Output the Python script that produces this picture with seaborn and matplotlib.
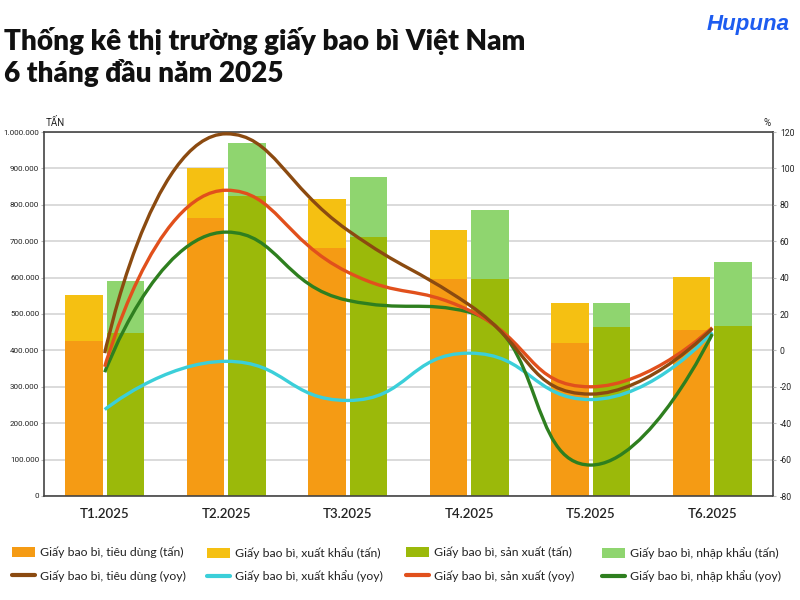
import numpy as np
import pandas as pd
import matplotlib
matplotlib.use("Agg")
import matplotlib.pyplot as plt
from matplotlib.path import Path
from matplotlib.patches import PathPatch, Patch
from matplotlib.lines import Line2D
import seaborn as sns

months = ["T1.2025", "T2.2025", "T3.2025", "T4.2025", "T5.2025", "T6.2025"]

# khối lượng (tấn)
tieu_dung = [425000, 765000, 680000, 595000, 420000, 455000]
xuat_khau = [127000, 137000, 136000, 136000, 109000, 146000]
san_xuat = [448000, 825000, 711000, 596000, 465000, 468000]
nhap_khau = [142000, 146000, 166000, 189000, 64000, 174000]

# tăng trưởng (yoy, %)
yoy_tieu_dung = [-1.5, 119, 66, 25, -24, 12]
yoy_xuat_khau = [-32.5, -6, -27.5, -1.5, -27, 10]
yoy_san_xuat = [-9, 88, 43, 22, -20, 12.5]
yoy_nhap_khau = [-12, 65, 27.5, 21, -63, 9]

left_ticks = list(range(0, 1000001, 100000))
right_ticks = list(range(-80, 121, 20))

c_orange = "#f59b14"
c_yellow = "#f5c012"
c_olive = "#9bb90a"
c_lgreen = "#8fd56f"
c_brown = "#8b4a10"
c_cyan = "#3bcfd9"
c_red = "#e1501c"
c_dgreen = "#2e7f1f"

sns.set_style("white")
plt.rcParams["font.family"] = ["Lato", "DejaVu Sans"]

narrow = ["Liberation Sans Narrow", "Roboto", "DejaVu Sans"]

df = pd.DataFrame({
    "thang": months * 2,
    "loai": ["tieu_dung"] * 6 + ["san_xuat"] * 6,
    "nen": tieu_dung + san_xuat,
    "tong": [a + b for a, b in zip(tieu_dung, xuat_khau)] + [a + b for a, b in zip(san_xuat, nhap_khau)],
})

fig = plt.figure(figsize=(8, 6), dpi=100)
ax = fig.add_axes([44 / 800, 1 - 496 / 600, (773 - 44) / 800, (496 - 132) / 600])

hue_order = ["tieu_dung", "san_xuat"]
sns.barplot(data=df, x="thang", y="tong", hue="loai", hue_order=hue_order,
            palette={"tieu_dung": c_yellow, "san_xuat": c_lgreen},
            width=0.685, gap=0.095, saturation=1, errorbar=None, legend=False,
            linewidth=0, ax=ax, zorder=2)
sns.barplot(data=df, x="thang", y="nen", hue="loai", hue_order=hue_order,
            palette={"tieu_dung": c_orange, "san_xuat": c_olive},
            width=0.685, gap=0.095, saturation=1, errorbar=None, legend=False,
            linewidth=0, ax=ax, zorder=2)

ax.set_xlim(-0.5, len(months) - 0.5)
ax.set_ylim(0, 1000000)
ax.set_yticks(left_ticks)
ax.set_yticklabels([f"{v:,}".replace(",", ".") for v in left_ticks], fontfamily=narrow,
                   fontsize=5.8, color="#222")
ax.set_xlabel("")
ax.set_ylabel("")
ax.yaxis.grid(True, color="#d4d4d4", lw=1.2, zorder=0)
ax.set_axisbelow(True)
ax.tick_params(axis="y", length=2, width=0.8, pad=1.5, color="#bbb")
ax.tick_params(axis="x", length=0, pad=9)
for lab in ax.get_xticklabels():
    lab.set_fontsize(9.5)
    lab.set_fontweight("semibold")
    lab.set_color("#222")
for s in ax.spines.values():
    s.set_color("#444")
    s.set_linewidth(1.2)

ax2 = ax.twinx()
ax2.set_ylim(-80, 120)
ax2.set_yticks(right_ticks)
ax2.set_yticklabels([str(v) for v in right_ticks], fontfamily=narrow, fontsize=6.2, color="#222")
ax2.tick_params(axis="y", length=2, width=0.8, pad=3, color="#bbb")
for s in ax2.spines.values():
    s.set_visible(False)


def smooth_path(axis, ys, smooth=0.5):
    # bezier control points in screen space, clamped so the curve does not overshoot
    pts = axis.transData.transform(np.column_stack([np.arange(len(ys)), ys]))
    verts = [pts[0]]
    codes = [Path.MOVETO]
    cp0 = pts[0]
    for i in range(1, len(pts)):
        p, prev = pts[i], pts[i - 1]
        if i == len(pts) - 1:
            cp1 = p
            nxt_cp0 = p
        else:
            nxt = pts[i + 1]
            l0 = np.hypot(*(p - prev))
            l1 = np.hypot(*(nxt - p))
            r = l1 / (l0 + l1)
            v = nxt - prev
            ncp = p + v * smooth * r
            ncp = np.maximum(np.minimum(ncp, np.maximum(nxt, p)), np.minimum(nxt, p))
            v = ncp - p
            cp1 = p - v * l0 / l1
            cp1 = np.maximum(np.minimum(cp1, np.maximum(prev, p)), np.minimum(prev, p))
            v = p - cp1
            nxt_cp0 = p + v * l1 / l0
        verts += [cp0, cp1, p]
        codes += [Path.CURVE4] * 3
        cp0 = nxt_cp0
    return Path(axis.transData.inverted().transform(np.array(verts)), codes)


yoy_series = [
    (yoy_xuat_khau, c_cyan),
    (yoy_nhap_khau, c_dgreen),
    (yoy_san_xuat, c_red),
    (yoy_tieu_dung, c_brown),
]
for vals, col in yoy_series:
    ax2.add_patch(PathPatch(smooth_path(ax2, vals), facecolor="none", edgecolor=col,
                            lw=2.4, capstyle="butt", zorder=3))

# texts
fig.text(4 / 800, 1 - 50 / 600, "Thống kê thị trường giấy bao bì Việt Nam",
         fontsize=20.1, fontweight="heavy", color="#111", ha="left", va="baseline")
fig.text(4 / 800, 1 - 82 / 600, "6 tháng đầu năm 2025",
         fontsize=20.1, fontweight="heavy", color="#111", ha="left", va="baseline")
fig.text(790 / 800, 1 - 30 / 600, "Hupuna", fontfamily=["Liberation Sans", "DejaVu Sans"],
         fontstyle="italic", fontweight="bold", fontsize=16, color="#1d5cf0", ha="right", va="baseline")
fig.text(46 / 800, 1 - 126 / 600, "TẤN", fontfamily=narrow, fontsize=7, color="#222", ha="left", va="baseline")
fig.text(771 / 800, 1 - 126 / 600, "%", fontfamily=narrow, fontsize=7, color="#222", ha="right", va="baseline")

# legend: four columns, bar on top, line below
legend_cols = [
    ("Giấy bao bì, tiêu dùng", c_orange, c_brown, 12),
    ("Giấy bao bì, xuất khẩu", c_yellow, c_cyan, 207),
    ("Giấy bao bì, sản xuất", c_olive, c_red, 406),
    ("Giấy bao bì, nhập khẩu", c_lgreen, c_dgreen, 602),
]
for name, bar_c, line_c, x0 in legend_cols:
    handles = [Patch(facecolor=bar_c, edgecolor="none"), Line2D([], [], color=line_c, lw=3)]
    leg = fig.legend(handles, [f"{name} (tấn)", f"{name} (yoy)"], loc="upper left",
                     bbox_to_anchor=(x0 / 800, 1 - 547 / 600), frameon=False, fontsize=8.8,
                     handlelength=1.9, handleheight=0.9, handletextpad=0.4, labelspacing=0.95,
                     borderpad=0, borderaxespad=0)
    for t in leg.get_texts():
        t.set_color("#222")

fig.savefig("out.png", dpi=100, facecolor="white")
